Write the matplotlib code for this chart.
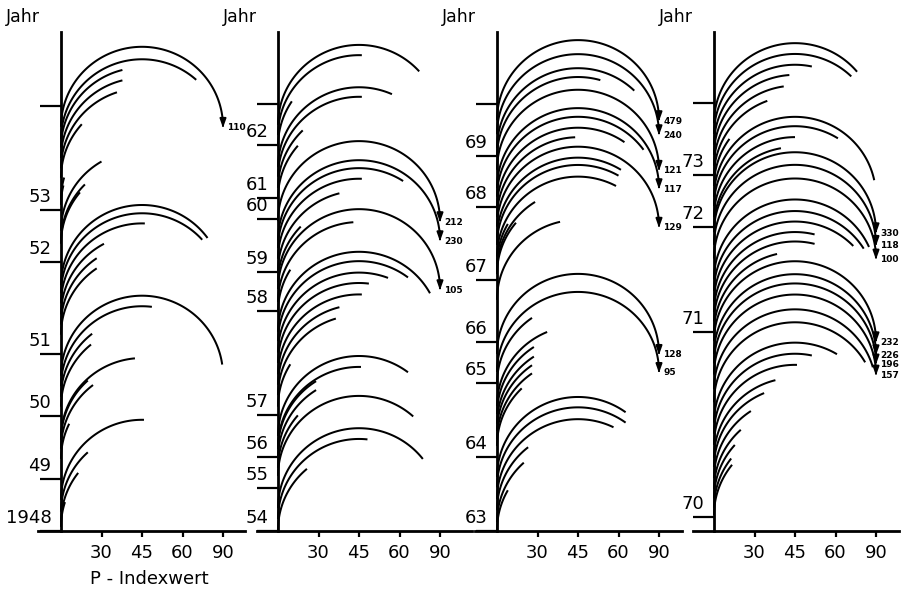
import numpy as np
import matplotlib
matplotlib.use("Agg")
import matplotlib.pyplot as plt

plt.rcParams['font.family'] = ['DejaVu Sans']

# ---------------- data ----------------
index_ticks = [30, 45, 60, 90]

# panel 1 (1948-1953)
p1_years = [1948, 1949, 1950, 1951, 1952, 1953, 1954]
p1_labels = ['1948', '49', '50', '51', '52', '53', '']
p1_start = [1953.80, 1953.68, 1953.60, 1953.50, 1953.40, 1953.31, 1953.10, 1953.05,
            1952.60, 1952.40, 1952.35,
            1951.75, 1951.66, 1951.55, 1951.43, 1951.32, 1951.21,
            1950.65, 1950.48, 1950.31, 1950.15,
            1949.65, 1949.62, 1949.48, 1949.32,
            1948.60, 1948.37, 1948.17, 1948.08]
p1_value = [110, 66, 38, 38, 36, 21, 8, 7,
            30, 22.6, 20,
            72, 69, 46, 31, 28, 28,
            86, 48.5, 26, 25.5,
            42.5, 24, 26.4, 13,
            45.7, 24, 19, 9]

# panel 2 (1954-1962)
p2_years = [1954, 1955, 1956, 1957, 1958, 1959, 1960, 1961, 1962, 1963]
p2_labels = ['54', '55', '56', '57', '58', '59', '60', '61', '62', '']
p2_start = [1962.49, 1962.24, 1961.98, 1961.58, 1961.40, 1961.19, 1960.99,
            1959.96, 1959.60, 1959.45, 1959.25, 1959.02,
            1958.74, 1958.56, 1958.23, 1957.99,
            1957.80, 1957.71, 1957.60, 1957.50, 1957.39, 1957.29, 1957.19, 1957.08,
            1956.50, 1956.24, 1956.19, 1955.97, 1955.65, 1955.39,
            1954.53, 1954.28, 1954.02]
p2_value = [69, 46, 17, 57, 46, 23, 20.5,
            212, 230, 61.5, 46, 38,
            22, 105, 43, 16,
            75.6, 63.6, 55.5, 48.5, 46, 38, 36.7, 16,
            63.6, 45.7, 29, 29, 20.5, 66,
            71, 48, 25]

# panel 3 (1963-1969)
p3_years = [1963, 1964, 1965, 1966, 1967, 1968, 1969, 1970]
p3_labels = ['63', '64', '65', '66', '67', '68', '69', '']
p3_start = [1969.69, 1969.42, 1969.15, 1968.98,
            1968.73, 1968.37, 1968.20, 1967.99, 1967.86, 1967.73, 1967.58, 1967.48, 1967.32,
            1967.22, 1967.14, 1967.08, 1966.68,
            1965.71, 1965.27, 1964.99, 1964.69, 1964.58, 1964.45, 1964.35, 1964.24,
            1964.15, 1963.73, 1963.59, 1963.43, 1963.28, 1963.12, 1963.01]
p3_value = [479, 240, 67, 53,
            121, 117, 72, 62.5, 44, 129, 61, 60, 59,
            15, 29, 20, 38.6,
            128, 95, 27.7, 33.8, 28.5, 28.5, 27.7, 27.7,
            23, 63, 63, 58, 26, 24, 15]

# panel 4 (1970-1973)
p4_years = [1970, 1971, 1972, 1973, 1974]
p4_labels = ['70', '71', '72', '73', '']
p4_start = [1973.72, 1973.57, 1973.42, 1973.28, 1973.13, 1972.98,
            1972.79, 1972.58, 1972.40, 1972.19, 1972.00,
            1971.95, 1971.83, 1971.70, 1971.50, 1971.39, 1971.29, 1971.19, 1971.10, 1971.00,
            1970.95, 1970.88, 1970.83, 1970.77, 1970.69, 1970.62,
            1970.51, 1970.45, 1970.39, 1970.32, 1970.27, 1970.21, 1970.15, 1970.10, 1970.05, 1970.01]
p4_value = [70, 67, 51, 43, 41, 35,
            18, 84, 61, 45, 40,
            330, 118, 100, 78, 74, 68, 52, 52, 38.6,
            232, 226, 196, 157, 82, 75,
            60.6, 51, 45.7, 38, 33.8, 28.5, 24, 21, 19, 19.5]

# ---------------- layout / style ----------------
# vertical position (px above baseline) of each year tick on the time axes
p1_year_pos = [0, 52, 115, 177, 269, 321, 425]
p2_year_pos = [0, 43, 74, 116, 220, 259, 312, 333, 386, 427]
p3_year_pos = [0, 74, 148, 189, 251, 324, 375, 427]
p4_year_pos = [14, 199, 304, 356, 428]

W, H = 905, 589
BASE_Y = 531       # baseline pixel row
TOP = 499          # axis height in px
UNIT = 81.0        # px per transformed x unit (arc radius)
RY = 80.0          # vertical arc radius (px units on time axis)
LW = 1.45

panels = [
    dict(years=p1_years, labels=p1_labels, pos=p1_year_pos, start=p1_start, value=p1_value,
         axis_x=61, left=38, right=245),
    dict(years=p2_years, labels=p2_labels, pos=p2_year_pos, start=p2_start, value=p2_value,
         axis_x=278, left=257, right=472),
    dict(years=p3_years, labels=p3_labels, pos=p3_year_pos, start=p3_start, value=p3_value,
         axis_x=497, left=475, right=682),
    dict(years=p4_years, labels=p4_labels, pos=p4_year_pos, start=p4_start, value=p4_value,
         axis_x=714, left=693, right=899),
]


def fwd(v):
    v = np.asarray(v, dtype=float)
    c = 1 - np.cos(np.radians(2 * np.clip(v, 0, 90)))
    return np.where(v < 0, v / 45.0, np.where(v > 90, 2 + (v - 90) / 90.0, c))


def inv(x):
    x = np.asarray(x, dtype=float)
    a = np.degrees(np.arccos(np.clip(1 - x, -1, 1))) / 2
    return np.where(x < 0, 45.0 * x, np.where(x > 2, 90 + (x - 2) * 90.0, a))


fig = plt.figure(figsize=(W / 100, H / 100), dpi=100)
fig.patch.set_facecolor('white')

for k, p in enumerate(panels):
    left_px, right_px = p['left'], p['right']
    ax = fig.add_axes([left_px / W, (H - BASE_Y) / H, (right_px - left_px) / W, 500 / H])
    ax.set_xscale('function', functions=(fwd, inv))
    ax.set_xlim(float(inv((left_px - p['axis_x']) / UNIT)), float(inv((right_px - p['axis_x']) / UNIT)))
    ax.set_ylim(0, 500)
    ax.patch.set_alpha(0)

    for s in ['top', 'right']:
        ax.spines[s].set_visible(False)
    ax.spines['left'].set_position(('data', 0))
    ax.spines['left'].set_bounds(0, TOP)
    ax.spines['left'].set_linewidth(2.0)
    ax.spines['bottom'].set_linewidth(2.0)

    ax.set_xticks(index_ticks)
    ax.set_xticklabels([str(t) for t in index_ticks])
    ax.xaxis.set_minor_locator(matplotlib.ticker.NullLocator())
    ax.tick_params(axis='x', length=4.5, width=1.6, labelsize=13, pad=5)

    ax.set_yticks(p['pos'])
    ax.set_yticklabels([''] * len(p['pos']))
    ax.yaxis.set_minor_locator(matplotlib.ticker.NullLocator())
    ax.tick_params(axis='y', length=15, width=1.6)

    for lab, ypos in zip(p['labels'], p['pos']):
        if lab:
            ax.annotate(lab, xy=(0, ypos), xytext=(-7, 5.5), textcoords='offset points',
                        ha='right', va='baseline', fontsize=13)

    ax.annotate('Jahr', xy=(0, 1), xycoords=('data', 'axes fraction'), xytext=(-39.5, 6.5),
                textcoords='offset points', ha='left', va='baseline', fontsize=12.5)

    for yr, v in zip(p['start'], p['value']):
        y0 = float(np.interp(yr, p['years'], p['pos']))
        vv = min(v, 90)
        t = np.linspace(0, vv, 120)
        y = y0 + RY * np.sin(np.radians(2 * t))
        ax.plot(t, y, color='black', lw=LW, solid_capstyle='butt', clip_on=False)
        if v > 90:
            ax.annotate('', xy=(90, y0 - 1), xytext=(90, y0 + 9),
                        arrowprops=dict(arrowstyle='-|>,head_length=0.5,head_width=0.18',
                                        color='black', lw=LW, shrinkA=0, shrinkB=0))
            ax.annotate(str(int(v)), xy=(90, y0 - 1), xytext=(3, 0), textcoords='offset points',
                        ha='left', va='center', fontsize=6.5, fontweight='bold')

    if k == 0:
        ax.annotate('P - Indexwert', xy=(0, 0), xytext=(21, -38), textcoords='offset points',
                    ha='left', va='baseline', fontsize=13)

fig.savefig('out.png', dpi=100)
